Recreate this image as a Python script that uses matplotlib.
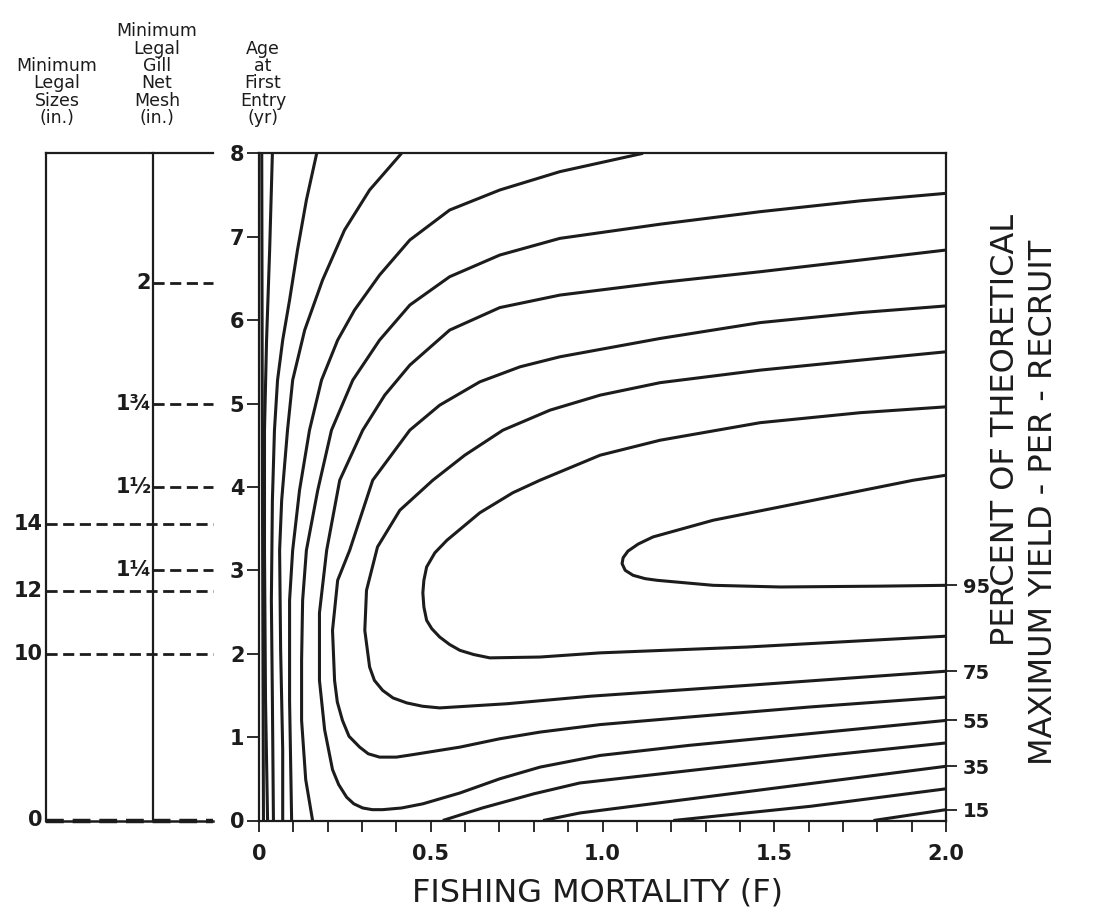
import matplotlib
matplotlib.use("Agg")
import matplotlib.pyplot as plt
from matplotlib.ticker import MultipleLocator

plt.rcParams['font.family'] = ['DejaVu Sans']

# yield-per-recruit isopleths (percent of max), F vs age at first entry
# outer isopleths are cut in two by the axes
f95 = [2.0, 1.905, 1.614, 1.322, 1.147, 1.104, 1.074, 1.060, 1.057, 1.066, 1.089, 1.124,
       1.159, 1.322, 1.518, 1.809, 2.0]
a95 = [4.14, 4.08, 3.84, 3.60, 3.40, 3.315, 3.23, 3.15, 3.08, 3.00, 2.94, 2.90,
       2.88, 2.82, 2.80, 2.81, 2.82]

f85 = [2.0, 1.751, 1.459, 1.168, 0.993, 0.818, 0.739, 0.643, 0.547, 0.512, 0.488, 0.480,
       0.477, 0.480, 0.488, 0.503, 0.526, 0.555, 0.585, 0.625, 0.672, 0.818, 0.993, 1.421, 2.0]
a85 = [4.96, 4.89, 4.77, 4.56, 4.38, 4.08, 3.93, 3.69, 3.36, 3.21, 3.04, 2.88,
       2.73, 2.56, 2.40, 2.30, 2.20, 2.11, 2.04, 1.99, 1.95, 1.96, 2.01, 2.08, 2.21]

f75 = [2.0, 1.751, 1.459, 1.168, 0.993, 0.847, 0.710, 0.599, 0.506, 0.410, 0.345, 0.313,
       0.308, 0.322, 0.336, 0.360, 0.390, 0.430, 0.476, 0.526, 0.722, 0.964, 1.421, 2.0]
a75 = [5.62, 5.52, 5.40, 5.25, 5.10, 4.92, 4.68, 4.38, 4.08, 3.72, 3.28, 2.76,
       2.28, 1.84, 1.68, 1.56, 1.47, 1.41, 1.37, 1.35, 1.40, 1.49, 1.62, 1.79]

f65 = [2.0, 1.751, 1.459, 1.168, 0.876, 0.760, 0.643, 0.526, 0.439, 0.331, 0.264, 0.229,
       0.214, 0.220, 0.228, 0.243, 0.262, 0.293, 0.318, 0.351, 0.400, 0.448, 0.585, 0.701,
       0.818, 0.993, 1.25, 1.6, 2.0]
a65 = [6.17, 6.09, 5.97, 5.78, 5.56, 5.44, 5.26, 4.98, 4.68, 4.08, 3.24, 2.88,
       2.28, 1.68, 1.42, 1.20, 1.01, 0.88, 0.80, 0.76, 0.76, 0.79, 0.88, 0.98,
       1.06, 1.15, 1.24, 1.36, 1.48]

f55 = [2.0, 1.751, 1.459, 1.168, 0.876, 0.701, 0.555, 0.439, 0.366, 0.302, 0.235, 0.197,
       0.176, 0.176, 0.191, 0.214, 0.232, 0.255, 0.276, 0.302, 0.330, 0.360, 0.415, 0.477,
       0.585, 0.701, 0.818, 0.993, 1.25, 1.6, 2.0]
a55 = [6.84, 6.72, 6.58, 6.45, 6.30, 6.15, 5.88, 5.46, 5.10, 4.68, 4.08, 3.24,
       2.49, 1.68, 1.09, 0.61, 0.43, 0.28, 0.20, 0.15, 0.13, 0.13, 0.15, 0.20,
       0.33, 0.50, 0.64, 0.78, 0.90, 1.04, 1.20]

f45_up = [2.0, 1.751, 1.459, 1.168, 0.876, 0.701, 0.555, 0.439, 0.351, 0.273, 0.211, 0.171,
          0.138, 0.127, 0.124, 0.124, 0.136, 0.156]
a45_up = [7.52, 7.43, 7.30, 7.15, 6.98, 6.78, 6.52, 6.18, 5.76, 5.28, 4.68, 3.96,
          3.24, 2.64, 1.92, 1.20, 0.49, 0.0]
f45_low = [0.535, 0.65, 0.8, 0.934, 1.3, 1.65, 2.0]
a45_low = [0.0, 0.15, 0.32, 0.45, 0.62, 0.78, 0.93]

f35_up = [1.118, 0.876, 0.701, 0.555, 0.439, 0.351, 0.278, 0.229, 0.182, 0.147, 0.118,
          0.098, 0.089, 0.089, 0.095]
a35_up = [8.0, 7.78, 7.56, 7.32, 6.96, 6.54, 6.12, 5.76, 5.28, 4.68, 3.96,
          3.24, 2.64, 1.44, 0.0]
f35_low = [0.827, 0.934, 1.2, 1.6, 2.0]
a35_low = [0.0, 0.09, 0.23, 0.44, 0.65]

f25_up = [0.415, 0.322, 0.249, 0.185, 0.133, 0.098, 0.083, 0.066, 0.060, 0.063, 0.069, 0.069]
a25_up = [8.0, 7.56, 7.08, 6.48, 5.88, 5.28, 4.68, 3.84, 3.24, 2.04, 0.85, 0.0]
f25_low = [1.206, 1.605, 2.0]
a25_low = [0.0, 0.17, 0.38]

f15_up = [0.168, 0.138, 0.112, 0.089, 0.069, 0.054, 0.045, 0.039, 0.036, 0.039, 0.042]
a15_up = [8.0, 7.44, 6.84, 6.24, 5.76, 5.28, 4.68, 3.84, 2.64, 1.44, 0.0]
f15_low = [1.789, 2.0]
a15_low = [0.0, 0.13]

f5 = [0.039, 0.031, 0.022, 0.016, 0.016, 0.019, 0.025]
a5 = [8.0, 6.84, 5.76, 4.68, 3.24, 1.44, 0.0]

f_edge = [0.008, 0.010, 0.013]
a_edge = [8.0, 4.0, 0.0]

curves = [(f95, a95), (f85, a85), (f75, a75), (f65, a65), (f55, a55),
          (f45_up, a45_up), (f45_low, a45_low), (f35_up, a35_up), (f35_low, a35_low),
          (f25_up, a25_up), (f25_low, a25_low), (f15_up, a15_up), (f15_low, a15_low),
          (f5, a5), (f_edge, a_edge)]

# right-hand labels sit where the labelled isopleths meet F = 2.0
right_labels = ['95', '75', '55', '35', '15']
right_ages = [a95[-1], a75[-1], a55[-1], a35_low[-1], a15_low[-1]]

x_ticks = [0, 0.5, 1.0, 1.5, 2.0]
x_tick_labels = ['0', '0.5', '1.0', '1.5', '2.0']
age_ticks = [0, 1, 2, 3, 4, 5, 6, 7, 8]

# left scales: legal sizes and gill net mesh against age at first entry
size_labels = ['14', '12', '10', '0']
size_ages = [3.55, 2.75, 2.0, 0.0]
mesh_labels = ['2', '1\u00be', '1\u00bd', '1\u00bc']
mesh_ages = [6.45, 5.0, 4.0, 3.0]

ink = '#1c1c1c'
W, H = 1100, 918
fig = plt.figure(figsize=(W / 100, H / 100), dpi=100)
bot = 1 - 820.5 / H
hgt = 667.2 / H

ax = fig.add_axes([259 / W, bot, 687 / W, hgt])
for f, a in curves:
    ax.plot(f, a, color=ink, lw=2.2, solid_joinstyle='round', solid_capstyle='butt')
ax.set_xlim(0, 2.0)
ax.set_ylim(0, 8)
for s in ax.spines.values():
    s.set_linewidth(1.6)
    s.set_color(ink)

ax.set_xticks(x_ticks, labels=x_tick_labels, fontweight='bold', fontsize=15)
ax.xaxis.set_minor_locator(MultipleLocator(0.1))
ax.set_yticks(age_ticks, labels=[str(v) for v in age_ticks], fontweight='bold', fontsize=15)
ax.tick_params(axis='x', which='both', direction='out', length=8, width=1.3, pad=9, colors=ink)
ax.tick_params(axis='y', direction='out', length=8.5, width=1.3, pad=2, colors=ink)

ax2 = ax.twinx()
ax2.set_ylim(0, 8)
ax2.set_yticks(right_ages, labels=right_labels, fontweight='bold', fontsize=14)
ax2.tick_params(axis='y', direction='out', length=8, width=1.3, pad=4, colors=ink)
for s in ax2.spines.values():
    s.set_visible(False)

# left panel
axl = fig.add_axes([46 / W, bot, 167 / W, hgt])
axl.set_xlim(0, 1)
axl.set_ylim(0, 8)
axl.axis('off')
xm = (153 - 46) / 167
axl.plot([0, 0], [0, 8], color=ink, lw=1.6, clip_on=False)
axl.plot([0, 1], [8, 8], color=ink, lw=1.6, clip_on=False)
axl.plot([xm, xm], [0, 8], color=ink, lw=1.6, clip_on=False)
axl.plot([0, 1], [0, 0], color=ink, lw=1.8, clip_on=False)
for lab, a in zip(size_labels, size_ages):
    axl.plot([0, 1], [a, a], color=ink, lw=2.0 if a > 0 else 3.2,
             dashes=(4, 2), clip_on=False)
    axl.text(-0.02, a, lab, ha='right', va='center', fontsize=15, fontweight='bold', color=ink)
for lab, a in zip(mesh_labels, mesh_ages):
    axl.plot([xm, 1], [a, a], color=ink, lw=2.0, dashes=(4, 2), clip_on=False)
    axl.text(xm - 0.01, a, lab, ha='right', va='center', fontsize=15, fontweight='bold',
             color=ink)

# column headings
head_kw = dict(ha='center', va='bottom', fontsize=12.5, linespacing=0.95, color=ink,
               multialignment='center')
fig.text(57 / W, 1 - 127 / H, 'Minimum\nLegal\nSizes\n(in.)', **head_kw)
fig.text(157 / W, 1 - 127 / H, 'Minimum\nLegal\nGill\nNet\nMesh\n(in.)', **head_kw)
fig.text(263 / W, 1 - 127 / H, 'Age\nat\nFirst\nEntry\n(yr)', **head_kw)

fig.text(598 / W, 1 - 893 / H, 'FISHING MORTALITY (F)', ha='center', va='center',
         fontsize=23, color=ink)
fig.text(1005 / W, 1 - 430 / H, 'PERCENT OF THEORETICAL', ha='center', va='center',
         rotation=90, fontsize=23, color=ink)
fig.text(1044 / W, 1 - 502 / H, 'MAXIMUM YIELD - PER - RECRUIT', ha='center', va='center',
         rotation=90, fontsize=23, color=ink)

fig.savefig('out.png', dpi=100, facecolor='white')
